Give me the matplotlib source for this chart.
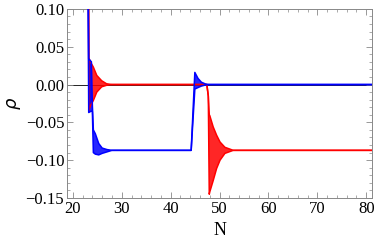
import matplotlib.pyplot as plt
from matplotlib.ticker import MultipleLocator, FuncFormatter

plt.rcParams['font.family'] = ['Liberation Serif', 'DejaVu Serif']

# red series: N, upper and lower envelope of the fast oscillation
red_n = [23.12, 23.28, 23.6, 24.2, 24.9, 25.9, 26.9, 28.0, 47.4, 47.7, 47.9, 48.0,
         48.7, 49.4, 50.1, 51.1, 52.8, 81.2]
red_hi = [0.30, 0.035, 0.030, 0.023, 0.012, 0.005, 0.001, 0.0, 0.0, -0.015, -0.040, -0.041,
          -0.056, -0.067, -0.076, -0.083, -0.087, -0.087]
red_lo = [0.30, -0.034, -0.028, -0.021, -0.010, -0.003, -0.001, 0.0, 0.0, -0.015, -0.145, -0.142,
          -0.127, -0.111, -0.100, -0.091, -0.087, -0.087]

# blue series
blue_n = [22.98, 23.25, 23.8, 24.0, 24.2, 24.6, 25.3, 26.0, 27.0, 28.0, 44.2, 44.95,
          45.6, 46.3, 47.2, 48.0, 81.2]
blue_hi = [0.30, 0.034, 0.030, -0.028, -0.060, -0.065, -0.078, -0.084, -0.086, -0.087, -0.087, 0.016,
           0.008, 0.003, 0.0005, 0.0, 0.0]
blue_lo = [0.30, -0.037, -0.035, -0.036, -0.090, -0.092, -0.093, -0.091, -0.089, -0.087, -0.087, -0.006,
           -0.004, -0.002, -0.0005, 0.0, 0.0]

fig = plt.figure(figsize=(3.74, 2.40), dpi=100)
ax = fig.add_axes([0.179, 0.175, 0.816, 0.788])

ax.axhline(0, color='black', lw=0.6, zorder=1)

for n, hi, lo, c in [(red_n, red_hi, red_lo, 'red'), (blue_n, blue_hi, blue_lo, 'blue')]:
    ax.fill_between(n, lo, hi, color=c, lw=0, alpha=0.85, zorder=2)
    ax.plot(n, hi, color=c, lw=1.1, zorder=3)
    ax.plot(n, lo, color=c, lw=1.1, zorder=3)

ax.set_xlim(18.8, 81.2)
ax.set_ylim(-0.15, 0.10)

ax.xaxis.set_major_locator(MultipleLocator(10))
ax.xaxis.set_minor_locator(MultipleLocator(2))
ax.yaxis.set_major_locator(MultipleLocator(0.05))
ax.yaxis.set_minor_locator(MultipleLocator(0.01))
ax.yaxis.set_major_formatter(FuncFormatter(lambda v, p: f"{v:.2f}".replace('-', '\u2212')))

ax.tick_params(which='both', direction='in', top=True, right=True, color='#888888',
               labelsize=12, pad=2)
ax.tick_params(which='major', length=4, width=0.6)
ax.tick_params(which='minor', length=2.2, width=0.5)
for s in ax.spines.values():
    s.set_color('#888888')
    s.set_linewidth(0.7)

ax.set_xlabel('N', fontsize=13, labelpad=4)
ax.set_ylabel(r'$\rho$', fontsize=13, labelpad=2)

fig.savefig('out.png', dpi=100)
